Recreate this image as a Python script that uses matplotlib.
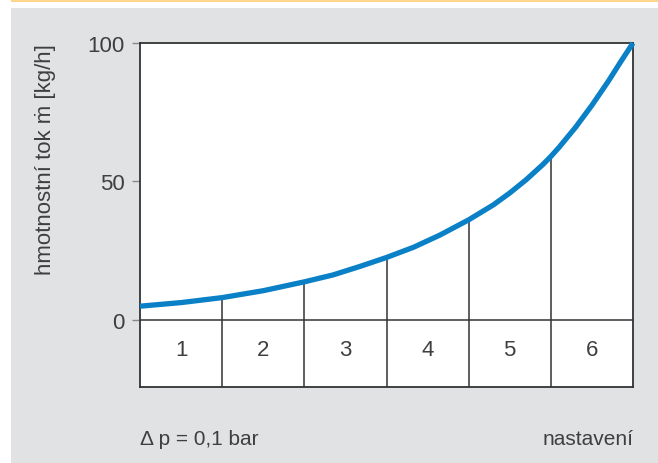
import numpy as np
import matplotlib
matplotlib.use("Agg")
import matplotlib.pyplot as plt
from matplotlib.patches import Rectangle

# flow curve (x in "nastavení" units, 0..6)
setting_pos = [0, 0.5, 1, 1.5, 2, 2.35, 2.68, 3, 3.33, 3.65, 4, 4.3, 4.5, 4.7, 4.9, 5,
               5.1, 5.3, 5.5, 5.7, 5.85, 6]
mass_flow = [4.9, 6.2, 8, 10.5, 13.7, 16.2, 19.3, 22.5, 26.2, 30.6, 36.1, 41.5, 45.8,
             50.6, 56, 59, 62.3, 69.5, 77.5, 86.2, 93.2, 100]

# divider lines between settings go up to the curve
divider_pos = [1, 2, 3, 4, 5]
divider_top = [8, 13.7, 22.5, 36.1, 59]

setting_labels = ['1', '2', '3', '4', '5', '6']
y_ticks = [0, 50, 100]

text_col = '#3f3f3f'
line_col = '#333333'
blue = '#0a80c6'

plt.rcParams['font.family'] = ['Liberation Sans', 'DejaVu Sans']

W, H = 658, 464
fig = plt.figure(figsize=(W / 100, H / 100), dpi=100)
fig.patch.set_facecolor('white')

# grey panel and orange strip on top
fig.patches.append(Rectangle((11 / W, 0), 1 - 11 / W, 1 - 9 / H,
                             transform=fig.transFigure, facecolor='#e1e2e4',
                             edgecolor='none', zorder=-2))
fig.patches.append(Rectangle((11 / W, 1 - 3 / H), 1 - 11 / W, 3 / H,
                             transform=fig.transFigure, facecolor='#fdd58c',
                             edgecolor='none', zorder=-2))

left, right, top, bottom = 140, 633, 44, 388
ax = fig.add_axes([left / W, 1 - bottom / H, (right - left) / W, (bottom - top) / H])
ax.set_zorder(1)
ax.set_facecolor('white')

ymin = -24.3
ax.set_xlim(0, 6)
ax.set_ylim(ymin, 100)

# table grid
ax.axhline(0, color=line_col, lw=1.1, zorder=2)
ax.vlines(divider_pos, ymin, divider_top, color=line_col, lw=1.1, zorder=2)

ax.plot(setting_pos, mass_flow, color=blue, lw=3.8, solid_capstyle='butt',
        solid_joinstyle='round', zorder=3, clip_on=False)

for i, lab in enumerate(setting_labels):
    ax.text(i + 0.5, -10.7, lab, ha='center', va='center', fontsize=16,
            color=text_col)

for s in ax.spines.values():
    s.set_color(line_col)
    s.set_linewidth(1.3)

ax.set_xticks([])
ax.set_yticks(y_ticks)
ax.set_yticklabels([str(t) for t in y_ticks])
ax.tick_params(axis='y', length=6, width=1, color='#888888', pad=5,
               labelsize=16, labelcolor=text_col)

fig.text(46 / W, 1 - 160 / H, 'hmotnostní tok ṁ [kg/h]', rotation=90,
         ha='center', va='center', fontsize=16, color=text_col)
fig.text(140 / W, 1 - 445 / H, 'Δ p = 0,1 bar', ha='left', va='baseline',
         fontsize=15, color=text_col)
fig.text(634 / W, 1 - 445 / H, 'nastavení', ha='right', va='baseline',
         fontsize=15, color=text_col)

fig.savefig('out.png', dpi=100)
